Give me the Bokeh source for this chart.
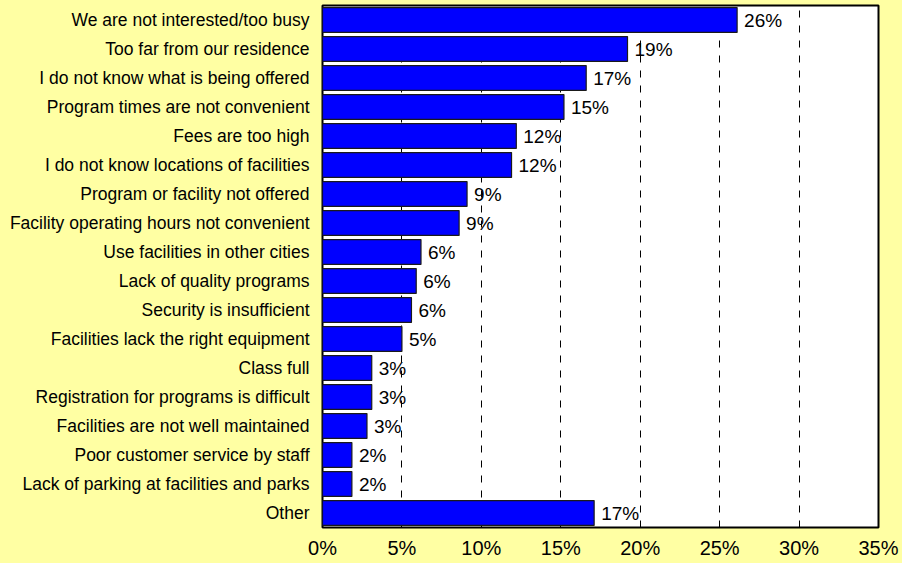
from bokeh.plotting import figure
from bokeh.models import FactorRange, Range1d, FixedTicker, ColumnDataSource, GlobalInlineStyleSheet, CustomJSTickFormatter
from bokeh.embed import file_html
from bokeh.resources import INLINE
from bokeh.core.properties import value

categories = [
    "We are not interested/too busy",
    "Too far from our residence",
    "I do not know what is being offered",
    "Program times are not convenient",
    "Fees are too high",
    "I do not know locations of facilities",
    "Program or facility not offered",
    "Facility operating hours not convenient",
    "Use facilities in other cities",
    "Lack of quality programs",
    "Security is insufficient",
    "Facilities lack the right equipment",
    "Class full",
    "Registration for programs is difficult",
    "Facilities are not well maintained",
    "Poor customer service by staff",
    "Lack of parking at facilities and parks",
    "Other",
]
percents = [26.1, 19.2, 16.6, 15.2, 12.2, 11.9, 9.1, 8.6, 6.2, 5.9, 5.6, 5.0, 3.1, 3.1, 2.8, 1.85, 1.85, 17.1]
x_ticks = [0, 5, 10, 15, 20, 25, 30, 35]

labels = ["%d%%" % int(round(v)) for v in percents]
src = ColumnDataSource(dict(cat=categories, val=percents, lab=labels))

FONT = "Liberation Sans"
BG = "#FFFFA3"

p = figure(
    width=902, height=563,
    y_range=FactorRange(*reversed(categories)),
    x_range=Range1d(0, 35),
    output_backend="svg", toolbar_location=None,
    min_border_left=322, min_border_right=24, min_border_top=5, min_border_bottom=36,
)
p.stylesheets = [GlobalInlineStyleSheet(css="body{background:%s;}" % BG)]
p.background_fill_color = "white"
p.border_fill_color = BG
p.outline_line_color = "black"
p.outline_line_width = 2

p.hbar(y="cat", right="val", left=0, height=0.86, source=src,
       fill_color="#0000FF", line_color="#1a1a1a", line_width=1.2)
p.text(x="val", y="cat", text="lab", source=src, x_offset=7,
       text_baseline="middle", text_align="left",
       text_font=value(FONT), text_font_size="19px", text_color="black")

p.ygrid.grid_line_color = None
p.xgrid.grid_line_color = "black"
p.xgrid.grid_line_dash = "7 8"
p.xgrid.grid_line_width = 1
p.xgrid.level = "underlay"
p.xgrid.ticker = FixedTicker(ticks=[5, 10, 15, 20, 25, 30])

p.xaxis.ticker = FixedTicker(ticks=x_ticks)
p.xaxis.formatter = CustomJSTickFormatter(code="return tick + '%';")
p.xaxis.axis_line_color = None
p.xaxis.major_tick_line_color = None
p.xaxis.minor_tick_line_color = None
p.xaxis.major_tick_out = 0
p.xaxis.major_tick_in = 0
p.xaxis.major_label_standoff = 9
p.xaxis.major_label_text_font = FONT
p.xaxis.major_label_text_font_size = "20px"
p.xaxis.major_label_text_color = "black"

p.yaxis.axis_line_color = None
p.yaxis.major_tick_line_color = None
p.yaxis.major_tick_out = 0
p.yaxis.major_tick_in = 0
p.yaxis.major_label_standoff = 13
p.yaxis.major_label_text_font = FONT
p.yaxis.major_label_text_font_size = "17.5px"
p.yaxis.major_label_text_color = "black"

open("out.html", "w").write(file_html(p, INLINE))
